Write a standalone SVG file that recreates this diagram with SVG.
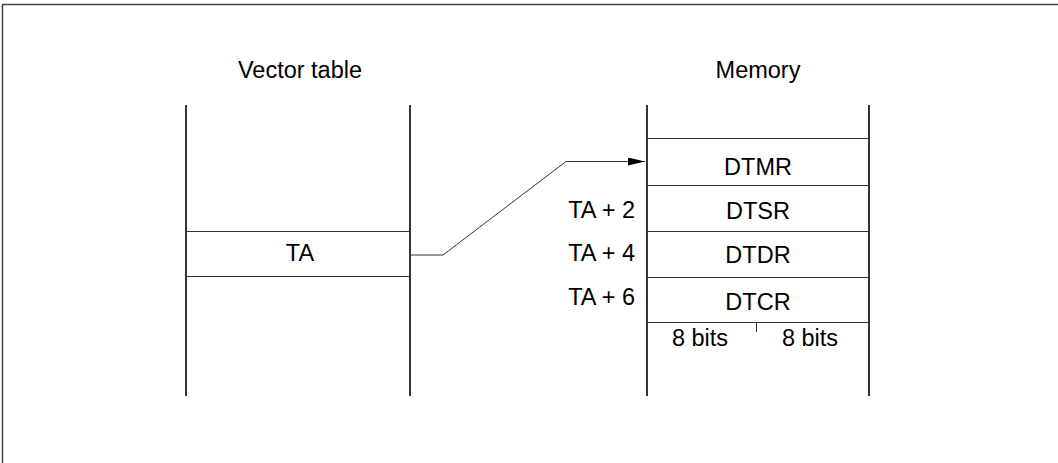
<svg xmlns="http://www.w3.org/2000/svg" width="1058" height="463" viewBox="0 0 1058 463">
<defs>
<style>
.t{font-family:"Liberation Sans",Arial,sans-serif;font-size:23.5px;fill:#000}
.m{text-anchor:middle}
.e{text-anchor:end}
.v{stroke:#000;stroke-width:1.6;fill:none}
.h{stroke:#333;stroke-width:1;fill:none}
</style>
<marker id="ah" markerWidth="17" markerHeight="8" refX="17" refY="4" orient="auto" markerUnits="userSpaceOnUse">
<path d="M0,0 L17,4 L0,8 Z" fill="#000"/>
</marker>
</defs>
<rect x="0" y="0" width="1058" height="463" fill="#fff"/>
<rect x="2.5" y="4.5" width="1070" height="480" fill="none" stroke="#444" stroke-width="1.5"/>
<g id="vector-table">
<text class="t m" x="300" y="77.5">Vector table</text>
<line class="v" x1="186" y1="105" x2="186" y2="396"/>
<line class="v" x1="410" y1="105" x2="410" y2="396"/>
<line class="h" x1="186" y1="231.5" x2="410" y2="231.5"/>
<line class="h" x1="186" y1="276.5" x2="410" y2="276.5"/>
<text class="t m" x="300" y="261">TA</text>
</g>
<g id="memory">
<text class="t m" x="758" y="77.5">Memory</text>
<line class="v" x1="647" y1="105" x2="647" y2="396"/>
<line class="v" x1="869" y1="105" x2="869" y2="396"/>
<line class="h" x1="647" y1="138.5" x2="869" y2="138.5"/>
<line class="h" x1="647" y1="185.5" x2="869" y2="185.5"/>
<line class="h" x1="647" y1="231.5" x2="869" y2="231.5"/>
<line class="h" x1="647" y1="277.5" x2="869" y2="277.5"/>
<line class="h" x1="647" y1="322.5" x2="869" y2="322.5"/>
<line class="h" x1="756.5" y1="322" x2="756.5" y2="332"/>
<text class="t m" x="758" y="175">DTMR</text>
<text class="t m" x="758" y="218.5">DTSR</text>
<text class="t m" x="758" y="263">DTDR</text>
<text class="t m" x="758" y="310">DTCR</text>
<text class="t e" x="635" y="218">TA + 2</text>
<text class="t e" x="635" y="261">TA + 4</text>
<text class="t e" x="635" y="305">TA + 6</text>
<text class="t m" x="700" y="345.5">8 bits</text>
<text class="t m" x="810" y="345.5">8 bits</text>
</g>
<g id="connectors">
<polyline class="h" points="410,255 443,255 566,161.5 645,161.5" marker-end="url(#ah)"/>
</g>
</svg>
